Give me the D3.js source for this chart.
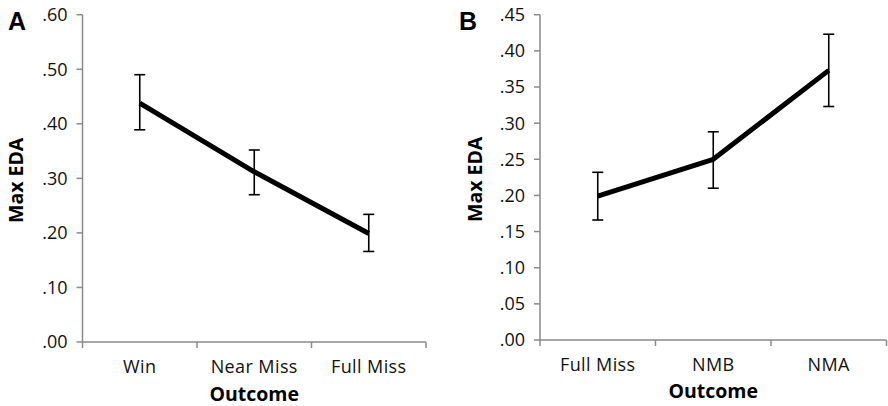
<!DOCTYPE html>
<html>
<head>
<meta charset="utf-8">
<script src="https://cdn.jsdelivr.net/npm/d3@7"></script>
<style>
  body { margin: 0; background: #fff; }
  svg { display: block; }
  .tick-label { font-family: "Open Sans", "DejaVu Sans", sans-serif; font-size: 18px; fill: #111; }
  .cat-label { font-family: "Open Sans", "DejaVu Sans", sans-serif; font-size: 18px; fill: #111; letter-spacing: 0.4px; }
  .title { font-family: "Open Sans", "DejaVu Sans", sans-serif; font-size: 19.5px; font-weight: bold; fill: #000; }
  .panel { font-family: "Liberation Sans", Arial, sans-serif; font-size: 25px; font-weight: bold; fill: #000; }
</style>
</head>
<body>
<svg id="chart" width="888" height="406"></svg>
<script>

// Panel A data
var catsA = ["Win", "Near Miss", "Full Miss"];
var meanA = [0.438, 0.312, 0.199];
var hiA = [0.490, 0.352, 0.234];
var loA = [0.389, 0.270, 0.166];
var ticksA = [0, 0.1, 0.2, 0.3, 0.4, 0.5, 0.6];

// Panel B data
var catsB = ["Full Miss", "NMB", "NMA"];
var meanB = [0.199, 0.250, 0.373];
var hiB = [0.232, 0.288, 0.423];
var loB = [0.166, 0.210, 0.323];
var ticksB = [0, 0.05, 0.1, 0.15, 0.2, 0.25, 0.3, 0.35, 0.4, 0.45];

var svg = d3.select("#chart");

function fmt(v) {
  // ".60" style, no leading zero
  return d3.format(".2f")(v).replace(/^0/, "");
}

function DrawPanel(opt) {

  var g = svg.append("g");

  var y = d3.scaleLinear().domain([0, opt.max]).range([opt.bottom, opt.top]);
  var x = d3.scaleBand().domain(opt.cats).range([opt.left, opt.right]);

  var axisColor = "#8a8a8a";

  // y axis line + ticks
  g.append("line")
    .attr("x1", opt.left).attr("x2", opt.left)
    .attr("y1", y(opt.max)).attr("y2", opt.bottom)
    .attr("stroke", axisColor).attr("stroke-width", 1.5);

  g.selectAll("line.ytick")
    .data(opt.ticks)
    .enter()
    .append("line")
    .attr("class", "ytick")
    .attr("x1", opt.left - 6).attr("x2", opt.left)
    .attr("y1", function(d) { return y(d); })
    .attr("y2", function(d) { return y(d); })
    .attr("stroke", axisColor).attr("stroke-width", 1.5);

  g.selectAll("text.ylab")
    .data(opt.ticks)
    .enter()
    .append("text")
    .attr("class", "tick-label")
    .attr("x", opt.left - 15)
    .attr("y", function(d) { return y(d); })
    .attr("dy", "0.36em")
    .attr("text-anchor", "end")
    .text(fmt);

  // x axis line + ticks (at band edges)
  g.append("line")
    .attr("x1", opt.left).attr("x2", opt.right)
    .attr("y1", opt.bottom).attr("y2", opt.bottom)
    .attr("stroke", axisColor).attr("stroke-width", 1.5);

  var edges = opt.cats.map(function(c) { return x(c); }).concat([opt.right]);

  g.selectAll("line.xtick")
    .data(edges)
    .enter()
    .append("line")
    .attr("x1", function(d) { return d; }).attr("x2", function(d) { return d; })
    .attr("y1", opt.bottom).attr("y2", opt.bottom + 6)
    .attr("stroke", axisColor).attr("stroke-width", 1.5);

  g.selectAll("text.xlab")
    .data(opt.cats)
    .enter()
    .append("text")
    .attr("class", "cat-label")
    .attr("x", function(d) { return x(d) + x.bandwidth() / 2; })
    .attr("y", opt.bottom + 31)
    .attr("text-anchor", "middle")
    .text(function(d) { return d; });

  var cx = function(i) { return x(opt.cats[i]) + x.bandwidth() / 2; };

  // error bars
  var eb = g.selectAll("g.err")
    .data(opt.mean)
    .enter()
    .append("g");

  eb.append("line")
    .attr("x1", function(d, i) { return cx(i); })
    .attr("x2", function(d, i) { return cx(i); })
    .attr("y1", function(d, i) { return y(opt.hi[i]); })
    .attr("y2", function(d, i) { return y(opt.lo[i]); })
    .attr("stroke", "#000").attr("stroke-width", 1.6);

  [opt.hi, opt.lo].forEach(function(arr) {
    eb.append("line")
      .attr("x1", function(d, i) { return cx(i) - 5.5; })
      .attr("x2", function(d, i) { return cx(i) + 5.5; })
      .attr("y1", function(d, i) { return y(arr[i]); })
      .attr("y2", function(d, i) { return y(arr[i]); })
      .attr("stroke", "#000").attr("stroke-width", 1.6);
  });

  // mean line
  var line = d3.line()
    .x(function(d, i) { return cx(i); })
    .y(function(d) { return y(d); });

  g.append("path")
    .datum(opt.mean)
    .attr("d", line)
    .attr("fill", "none")
    .attr("stroke", "#000")
    .attr("stroke-width", 5)
    .attr("stroke-linejoin", "round");

  // axis titles
  g.append("text")
    .attr("class", "title")
    .attr("x", (opt.left + opt.right) / 2)
    .attr("y", opt.bottom + opt.titleDy)
    .attr("text-anchor", "middle")
    .text("Outcome");

  g.append("text")
    .attr("class", "title")
    .attr("transform", "translate(" + opt.ylabX + "," + ((opt.top + opt.bottom) / 2 + 2) + ") rotate(-90)")
    .attr("text-anchor", "middle")
    .text("Max EDA");

  g.append("text")
    .attr("class", "panel")
    .attr("x", opt.panelX)
    .attr("y", 30)
    .text(opt.panel);
}

DrawPanel({
  cats: catsA, mean: meanA, hi: hiA, lo: loA, ticks: ticksA, max: 0.6,
  left: 82.5, right: 426, top: 14.7, bottom: 342,
  ylabX: 23, panelX: 8, panel: "A", titleDy: 59
});

DrawPanel({
  cats: catsB, mean: meanB, hi: hiB, lo: loB, ticks: ticksB, max: 0.45,
  left: 540, right: 886.5, top: 14.7, bottom: 340,
  ylabX: 482, panelX: 459, panel: "B", titleDy: 58
});

</script>
</body>
</html>
